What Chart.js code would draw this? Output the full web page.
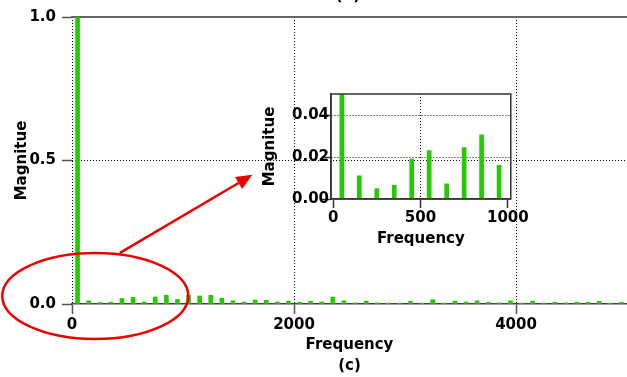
<!DOCTYPE html>
<html><head><meta charset="utf-8">
<script src="https://cdn.jsdelivr.net/npm/chart.js@4"></script>
<style>
html,body{margin:0;padding:0;background:#fff;}
#wrap{position:relative;width:627px;height:377px;overflow:hidden;}
#main{position:absolute;left:0;top:0;}
#inset{position:absolute;left:250px;top:80px;}
</style></head><body>
<div id="wrap"><canvas id="main" width="627" height="377"></canvas><canvas id="inset" width="280" height="170"></canvas></div>
<script>
// ---- data ----
const freqs = [50,150,250,350,450,550,650,750,850,950,
  1050,1150,1250,1350,1450,1550,1650,1750,1850,1950,
  2050,2150,2250,2350,2450,2550,2650,2750,2850,2950,
  3050,3150,3250,3350,3450,3550,3650,3750,3850,3950,
  4050,4150,4250,4350,4450,4550,4650,4750,4850,4950];
const mags = [1.0,0.011,0.005,0.0065,0.019,0.023,0.0072,0.0245,0.0305,0.016,
  0.031,0.028,0.030,0.020,0.011,0.007,0.014,0.013,0.007,0.010,
  0.006,0.009,0.007,0.024,0.011,0.004,0.010,0.004,0.003,0.003,
  0.009,0.003,0.015,0.003,0.010,0.007,0.011,0.006,0.004,0.011,
  0.003,0.010,0.003,0.006,0.004,0.006,0.006,0.009,0.003,0.006];
const mainXTicks = [0,2000,4000];
const mainYTicks = [0,0.5,1.0];
const insetXTicks = [0,500,1000];
const insetYTicks = [0,0.02,0.04];
const insetMaxFreq = 1000;
// annotation (data units of main chart)
const ellipseCenter = {x:210, y:0.028};
const ellipseRadius = {x:838, y:0.15};
const arrowFrom = {x:432, y:0.178};
const arrowTo = {x:1625, y:0.45};

const GREEN = 'rgb(34,204,0)';
const FONT = {family:'"DejaVu Sans", sans-serif', weight:'bold', size:15};
const FONT_T = {family:'"DejaVu Sans", sans-serif', weight:'bold', size:15, lineHeight:1.4};

const annot = {
  id:'annot',
  afterDraw(chart){
    const {ctx, scales:{x,y}} = chart;
    ctx.save();
    ctx.strokeStyle = 'rgb(235,0,0)';
    ctx.fillStyle = 'rgb(235,0,0)';
    ctx.lineWidth = 2.5;
    const cx = x.getPixelForValue(ellipseCenter.x), cy = y.getPixelForValue(ellipseCenter.y);
    const rx = x.getPixelForValue(ellipseCenter.x+ellipseRadius.x)-cx;
    const ry = cy - y.getPixelForValue(ellipseCenter.y+ellipseRadius.y);
    ctx.beginPath(); ctx.ellipse(cx,cy,rx,ry,0,0,Math.PI*2); ctx.stroke();
    const x1 = x.getPixelForValue(arrowFrom.x), y1 = y.getPixelForValue(arrowFrom.y);
    const x2 = x.getPixelForValue(arrowTo.x), y2 = y.getPixelForValue(arrowTo.y);
    const ang = Math.atan2(y2-y1, x2-x1);
    const hl = 16, hw = 7;
    const bx = x2 - hl*Math.cos(ang), by = y2 - hl*Math.sin(ang);
    ctx.beginPath(); ctx.moveTo(x1,y1); ctx.lineTo(bx,by); ctx.stroke();
    ctx.beginPath();
    ctx.moveTo(x2,y2);
    ctx.lineTo(bx + hw*Math.sin(ang), by - hw*Math.cos(ang));
    ctx.lineTo(bx - hw*Math.sin(ang), by + hw*Math.cos(ang));
    ctx.closePath(); ctx.fill();
    // partial label of the panel above
    ctx.fillStyle = '#000';
    ctx.font = 'bold 15px "DejaVu Sans"';
    ctx.textAlign = 'center'; ctx.textBaseline = 'alphabetic';
    ctx.fillText('(b)', 348, 0);
    ctx.restore();
  }
};

new Chart(document.getElementById('main'), {
  type:'bar',
  data:{ datasets:[{ data: freqs.map((f,i)=>({x:f, y:mags[i]})), backgroundColor:GREEN, barThickness:4, borderWidth:0 }]},
  options:{
    responsive:false, animation:false, devicePixelRatio:1,
    layout:{padding:{top:17,left:0,right:0,bottom:0}},
    plugins:{legend:{display:false}, tooltip:{enabled:false}},
    scales:{
      x:{ type:'linear', min:0, max:5000, offset:false,
        afterBuildTicks:s=>{ s.ticks = mainXTicks.map(v=>({value:v})); },
        afterFit:s=>{ s.height = 73; },
        grid:{ offset:false, color:'#000', lineWidth:1, tickLength:10, tickColor:'#555', tickWidth:1.5, tickBorderDash:[] },
        border:{ display:true, color:'#444', width:1.5, dash:[1,2] },
        ticks:{ font:FONT, color:'#000', padding:2, maxRotation:0, callback:v=>String(v) },
        title:{ display:true, text:['Frequency','(c)'], font:FONT_T, color:'#000', padding:{top:0,bottom:0} }
      },
      x2:{ type:'linear', position:'top', min:0, max:5000, display:true, offset:false,
        afterFit:s=>{ s.height = 0; },
        ticks:{display:false}, grid:{display:false, offset:false},
        border:{ display:true, color:'#666', width:2 } },
      y:{ min:0, max:1,
        afterBuildTicks:s=>{ s.ticks = mainYTicks.map(v=>({value:v})); },
        afterFit:s=>{ s.width = 72; },
        grid:{ color:c=> (c.tick && c.tick.value===0.5) ? '#000' : 'rgba(0,0,0,0)', tickLength:10, tickColor:'#555', tickWidth:1.5, tickBorderDash:[] },
        border:{ display:false, dash:[1,2] },
        ticks:{ font:FONT, color:'#000', padding:6, callback:v=>Number(v).toFixed(1) },
        title:{ display:true, text:'Magnitue', font:FONT, color:'#000', padding:{top:13,bottom:0} }
      }
    }
  },
  plugins:[annot]
});

const frame = {
  id:'frame',
  afterDraw(chart){
    const {ctx, chartArea:a} = chart;
    ctx.save(); ctx.strokeStyle = '#333'; ctx.lineWidth = 1.5;
    ctx.strokeRect(a.left, a.top, a.right-a.left, a.bottom-a.top);
    ctx.restore();
  }
};

const insetIdx = freqs.map((f,i)=>i).filter(i=>freqs[i] < insetMaxFreq);
new Chart(document.getElementById('inset'), {
  type:'bar',
  data:{ datasets:[{ data: insetIdx.map(i=>({x:freqs[i], y:mags[i]})), backgroundColor:GREEN, barThickness:4, borderWidth:0 }]},
  options:{
    responsive:false, animation:false, devicePixelRatio:1,
    layout:{padding:{top:14,left:0,right:19,bottom:0}},
    plugins:{legend:{display:false}, tooltip:{enabled:false}},
    scales:{
      x:{ type:'linear', min:-12, max:1017, offset:false,
        afterBuildTicks:s=>{ s.ticks = insetXTicks.map(v=>({value:v})); },
        afterFit:s=>{ s.height = 51; },
        grid:{ offset:false, color:c=> (c.tick && c.tick.value===500) ? '#000' : 'rgba(0,0,0,0)', tickLength:9, tickColor:'#333', tickWidth:1.5, tickBorderDash:[] },
        border:{ display:true, color:'#333', width:1.5, dash:[1,2] },
        ticks:{ font:FONT, color:'#000', padding:1, maxRotation:0, callback:v=>String(v) },
        title:{ display:true, text:'Frequency', font:FONT, color:'#000', padding:{top:0,bottom:2} }
      },
      y:{ min:0, max:0.05,
        afterBuildTicks:s=>{ s.ticks = insetYTicks.map(v=>({value:v})); },
        afterFit:s=>{ s.width = 81; },
        grid:{ color:c=> (c.tick && c.tick.value>0) ? '#000' : 'rgba(0,0,0,0)', tickLength:9, tickColor:'#333', tickWidth:1.5, tickBorderDash:[] },
        border:{ display:true, color:'#333', width:1.5, dash:[1,2] },
        ticks:{ font:FONT, color:'#000', padding:-7, callback:v=>Number(v).toFixed(2) },
        title:{ display:true, text:'Magnitue', font:FONT, color:'#000', padding:{top:11,bottom:0} }
      }
    }
  },
  plugins:[frame]
});
</script>
</body></html>
